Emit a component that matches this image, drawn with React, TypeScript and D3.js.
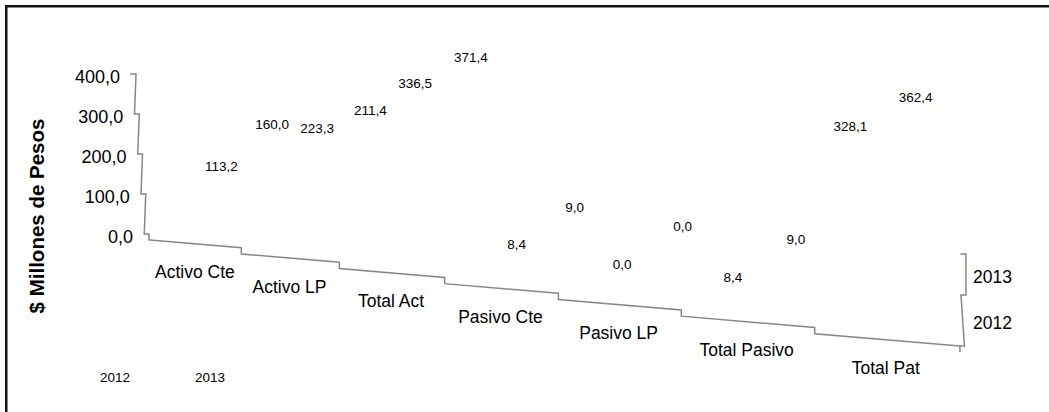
import React from "react";
import * as d3 from "d3";

const categories = ["Activo Cte", "Activo LP", "Total Act", "Pasivo Cte", "Pasivo LP", "Total Pasivo", "Total Pat"];
const seriesNames = ["2012", "2013"];
const values2012 = [113.2, 223.3, 336.5, 8.4, 0.0, 8.4, 328.1];
const values2013 = [160.0, 211.4, 371.4, 9.0, 0.0, 9.0, 362.4];
const yTickValues = [0, 100, 200, 300, 400];
const yTitle = "$ Millones de Pesos";

const W = 1049;
const H = 412;
const FONT = "'Liberation Sans', Arial, sans-serif";
const AXIS = "#878787";

const fmt = (v: number) => d3.format(".1f")(v).replace(".", ",");

// perspective category axis (t = 0..7 along the floor front edge)
const persp = 0.0339;
const xCat = (t: number) => 150 + 88.25 * t / (1 - persp * t);
const floorY = (x: number, k: number) => 240 + 0.085 * (x - 150) + 6.2 * k;

const yScale = d3.scaleLinear().domain([0, 400]).range([234, 74]);
const axisX = d3.scaleLinear().domain([0, 400]).range([149, 136]);
const depthY = d3.scaleLinear().domain([0, 1, 2]).range([346, 295, 254]);

// projection of a bar top (category k, series s, value v) to label anchor
const labelPos = (k: number, s: number, v: number) => {
  const xc = xCat(k + 0.5);
  const d = k - 3;
  const x = xc + 7 + 58 * s + (-10.3 + 2.4 * s) * d - 2.3 * (d * d - 4);
  const scale = 0.334 - 0.074 * s + 0.1 * Math.log(1 + k);
  const y = floorY(xc, k) - (40 + 38 * s) - scale * v;
  return [x, y];
};

export default function App() {
  const seriesValues = [values2012, values2013];

  const vt = [...yTickValues].sort((a, b) => b - a);
  let vPath = `M${axisX(vt[0]) - 6},${yScale(vt[0])}H${axisX(vt[0])}`;
  for (let i = 1; i < vt.length; i++) {
    vPath += `L${axisX(vt[i - 1]) - 1.5},${yScale(vt[i])}H${axisX(vt[i])}`;
  }
  vPath += `V${floorY(xCat(0), 0)}L${xCat(0)},${floorY(xCat(0), 0)}`;

  let cPath = `M${xCat(0)},${floorY(xCat(0), 0)}`;
  categories.forEach((_, k) => {
    const x1 = xCat(k + 1);
    cPath += `L${x1},${floorY(x1, k)}`;
    if (k < categories.length - 1) cPath += `V${floorY(x1, k + 1)}`;
  });
  const xEnd = xCat(categories.length);
  const yEnd = floorY(xEnd, categories.length - 1);
  cPath += `H${xEnd + 4.5}L${xEnd + 1},${depthY(1)}H${xEnd + 6}V${depthY(2)}H${xEnd + 0.5}`;
  const endTick = `M${xEnd},${yEnd}V${yEnd + 6}`;

  return (
    <svg width={W} height={H} style={{ position: "absolute", left: 0, top: 0, background: "#fff" }} fontFamily={FONT}>
      <rect x={6.25} y={6.25} width={1200} height={600} fill="none" stroke="#111" strokeWidth={2.5} />

      <path d={vPath} fill="none" stroke={AXIS} strokeWidth={1.5} />
      <path d={cPath} fill="none" stroke={AXIS} strokeWidth={1.5} />
      <path d={endTick} fill="none" stroke={AXIS} strokeWidth={1.5} />

      {yTickValues.map((v) => (
        <text key={v} x={axisX(v) - 16} y={yScale(v) + 3} dy="0.35em" textAnchor="end" fontSize={18} fill="#000">
          {fmt(v)}
        </text>
      ))}

      <text transform={`translate(44,216) rotate(-90)`} textAnchor="middle" fontSize={20.5} fontWeight="bold" fill="#000">
        {yTitle}
      </text>

      {categories.map((c, k) => {
        const xc = xCat(k + 0.5);
        return (
          <text key={c} x={xc} y={floorY(xc, k) + 34.5} textAnchor="middle" fontSize={17.5} fill="#000">
            {c}
          </text>
        );
      })}

      {seriesNames.map((s, i) => (
        <text key={"d" + s} x={xEnd + 13} y={depthY(i + 0.5) + 8} textAnchor="start" fontSize={17.5} fill="#000">
          {s}
        </text>
      ))}

      {seriesValues.map((vals, s) =>
        vals.map((v, k) => {
          const [x, y] = labelPos(k, s, v);
          return (
            <text key={`l${s}-${k}`} x={x} y={y} dy="0.35em" textAnchor="middle" fontSize={13.5} fill="#000">
              {fmt(v)}
            </text>
          );
        })
      )}

      {seriesNames.map((s, i) => (
        <text key={"lg" + s} x={115 + 95 * i} y={377.5} dy="0.35em" textAnchor="middle" fontSize={13.5} fill="#000">
          {s}
        </text>
      ))}
    </svg>
  );
}
